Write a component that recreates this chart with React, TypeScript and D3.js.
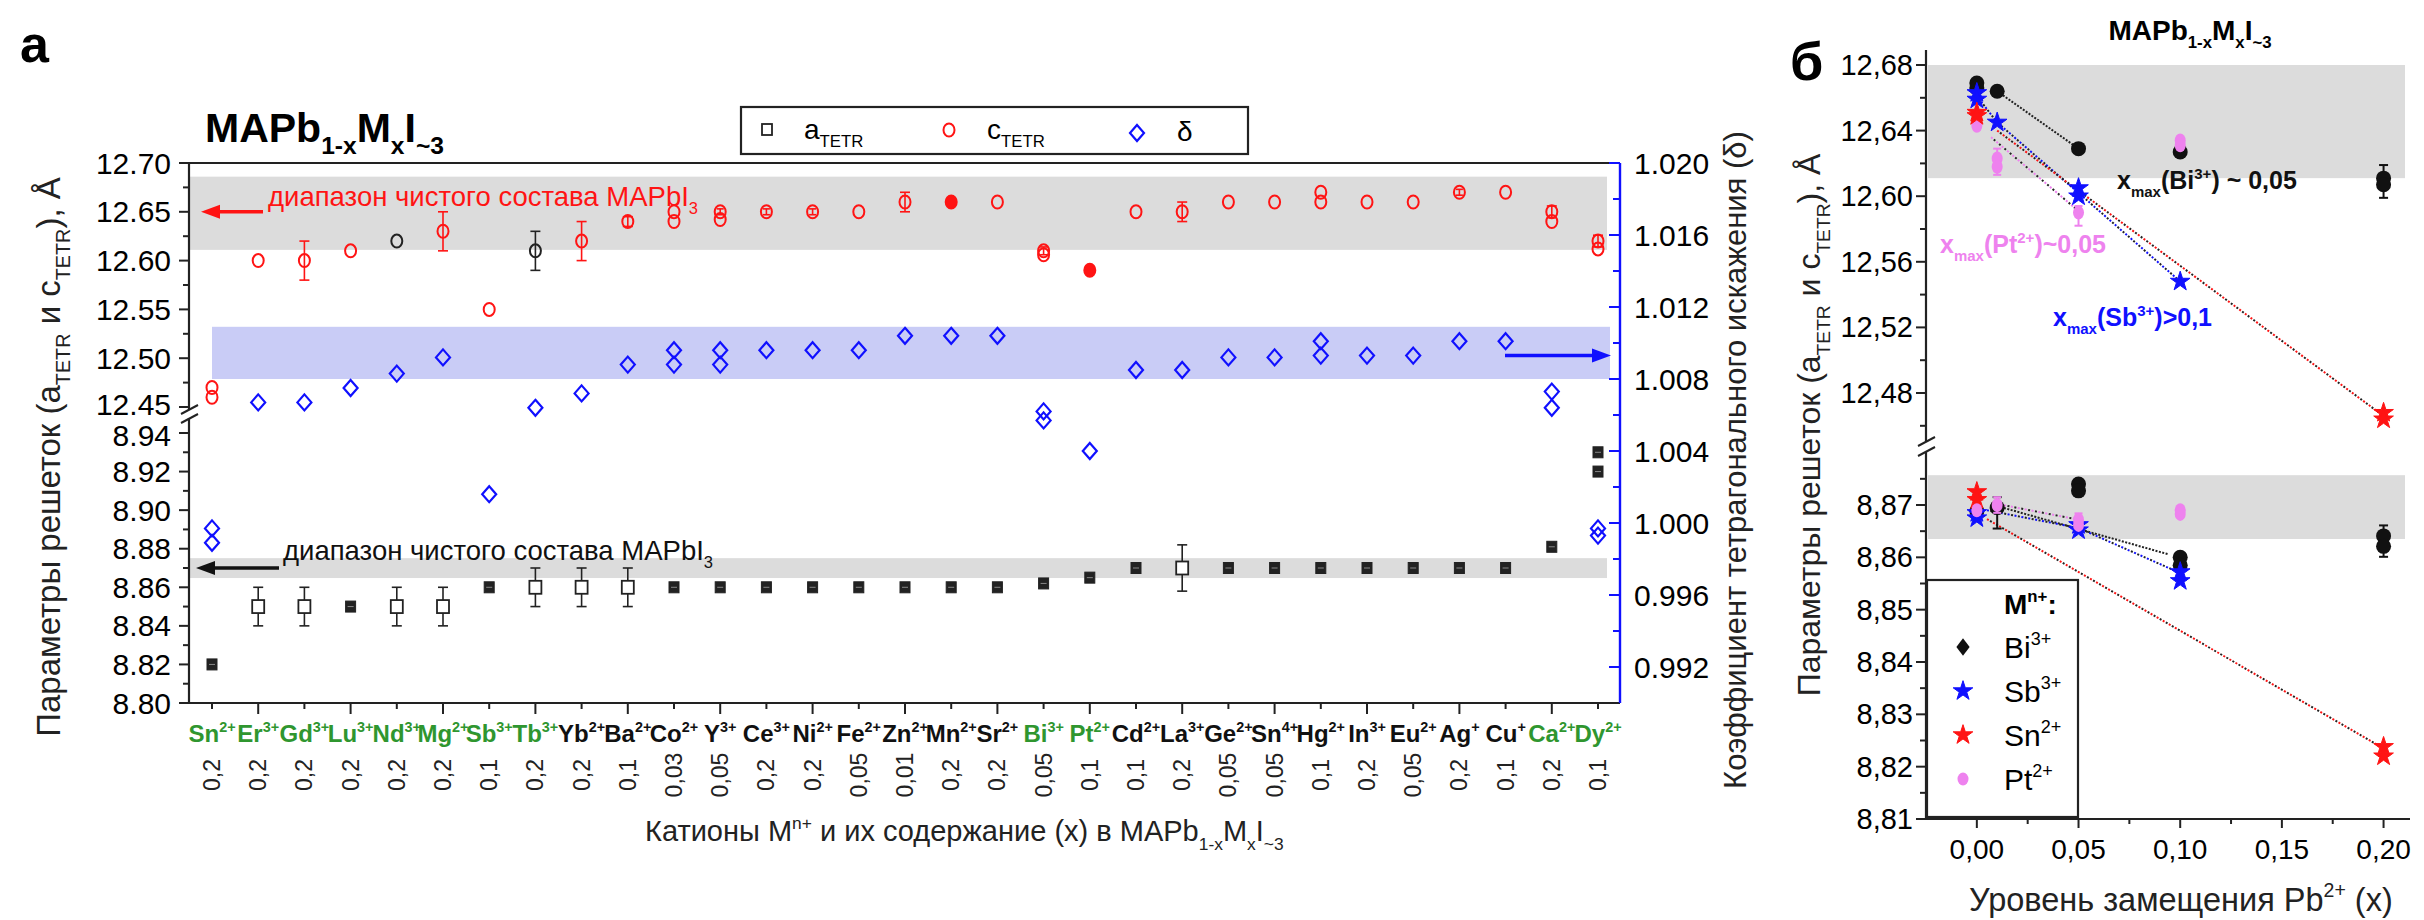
import React from 'react';
import * as d3 from 'd3';

const FONT = "'Liberation Sans', Arial, Helvetica, sans-serif";

// ---------- panel a : cations, charges and content x ----------
const cations = ['Sn', 'Er', 'Gd', 'Lu', 'Nd', 'Mg', 'Sb', 'Tb', 'Yb', 'Ba', 'Co', 'Y', 'Ce', 'Ni', 'Fe', 'Zn', 'Mn', 'Sr', 'Bi', 'Pt', 'Cd', 'La', 'Ge', 'Sn', 'Hg', 'In', 'Eu', 'Ag', 'Cu', 'Ca', 'Dy'];
const charges = ['2+', '3+', '3+', '3+', '3+', '2+', '3+', '3+', '2+', '2+', '2+', '3+', '3+', '2+', '2+', '2+', '2+', '2+', '3+', '2+', '2+', '3+', '2+', '4+', '2+', '3+', '2+', '+', '+', '2+', '2+'];
const contents = ['0,2', '0,2', '0,2', '0,2', '0,2', '0,2', '0,1', '0,2', '0,2', '0,1', '0,03', '0,05', '0,2', '0,2', '0,05', '0,01', '0,2', '0,2', '0,05', '0,1', '0,1', '0,2', '0,05', '0,05', '0,1', '0,2', '0,05', '0,2', '0,1', '0,2', '0,1'];
const greenCations = [0, 1, 2, 3, 4, 5, 6, 7, 18, 19, 29, 30];

// a_TETR (A)
const aTetr = [[8.82], [8.85], [8.85], [8.85], [8.85], [8.85], [8.86], [8.86], [8.86], [8.86], [8.86], [8.86], [8.86], [8.86], [8.86], [8.86], [8.86], [8.86], [8.862], [8.865], [8.87], [8.87], [8.87], [8.87], [8.87], [8.87], [8.87], [8.87], [8.87], [8.881], [8.93, 8.92]];
const aErr = [0.002, 0.01, 0.01, 0.002, 0.01, 0.01, 0.002, 0.01, 0.01, 0.01, 0.002, 0.002, 0.002, 0.002, 0.002, 0.002, 0.002, 0.002, 0.002, 0.003, 0.002, 0.012, 0.002, 0.002, 0.002, 0.002, 0.002, 0.002, 0.002, 0.002, 0.002];
// c_TETR (A)
const cTetr = [[12.47, 12.46], [12.60], [12.60], [12.61], [12.62], [12.63], [12.55], [12.61], [12.62], [12.64], [12.65, 12.64], [12.65, 12.642], [12.65], [12.65], [12.65], [12.66], [12.66], [12.66], [12.61, 12.606], [12.59], [12.65], [12.65], [12.66], [12.66], [12.67, 12.66], [12.66], [12.66], [12.67], [12.67], [12.65, 12.64], [12.62, 12.612]];
const cErr = [0, 0, 0.02, 0, 0, 0.02, 0, 0.02, 0.02, 0.005, 0, 0.003, 0.003, 0.003, 0, 0.01, 0.004, 0, 0.004, 0.004, 0, 0.01, 0, 0, 0, 0, 0, 0.003, 0, 0.006, 0.006];
const cBlackMarks = [4, 7];
const cSolidMarks = [16, 19];
// tetragonal distortion delta
const delta = [[0.9997, 0.9989], [1.0067], [1.0067], [1.0075], [1.0083], [1.0092], [1.0016], [1.0064], [1.0072], [1.0088], [1.0096, 1.0088], [1.0096, 1.0088], [1.0096], [1.0096], [1.0096], [1.0104], [1.0104], [1.0104], [1.0062, 1.0057], [1.004], [1.0085], [1.0085], [1.0092], [1.0092], [1.0101, 1.0093], [1.0093], [1.0093], [1.0101], [1.0101], [1.0073, 1.0064], [0.9997, 0.9993]];

const cPureRange = [12.611, 12.686];
const aPureRange = [8.8648, 8.8751];
const deltaRange = [1.008, 1.0109];

const cTicks = [12.45, 12.5, 12.55, 12.6, 12.65, 12.7];
const aTicks = [8.8, 8.82, 8.84, 8.86, 8.88, 8.9, 8.92, 8.94];
const dTicks = [0.992, 0.996, 1.0, 1.004, 1.008, 1.012, 1.016, 1.02];

// ---------- panel б : substitution level ----------
type Pt = { x: number; v: number; e?: number };
const biC: Pt[] = [{ x: 0, v: 12.669 }, { x: 0, v: 12.666 }, { x: 0.01, v: 12.664 }, { x: 0.05, v: 12.629 }, { x: 0.1, v: 12.627 }, { x: 0.2, v: 12.611, e: 0.008 }, { x: 0.2, v: 12.607 }];
const sbC: Pt[] = [{ x: 0, v: 12.663 }, { x: 0, v: 12.659 }, { x: 0.01, v: 12.645 }, { x: 0.05, v: 12.605 }, { x: 0.05, v: 12.6 }, { x: 0.1, v: 12.548 }];
const snC: Pt[] = [{ x: 0, v: 12.651 }, { x: 0, v: 12.649 }, { x: 0.2, v: 12.468 }, { x: 0.2, v: 12.464 }];
const ptC: Pt[] = [{ x: 0, v: 12.643 }, { x: 0.01, v: 12.623, e: 0.006 }, { x: 0.01, v: 12.618 }, { x: 0.05, v: 12.59, e: 0.004 }, { x: 0.1, v: 12.634 }, { x: 0.1, v: 12.631 }];
const biA: Pt[] = [{ x: 0, v: 8.8688 }, { x: 0.01, v: 8.8695, e: 0.002 }, { x: 0.05, v: 8.874 }, { x: 0.05, v: 8.8727 }, { x: 0.1, v: 8.86 }, { x: 0.1, v: 8.8585 }, { x: 0.2, v: 8.8641, e: 0.002 }, { x: 0.2, v: 8.8621 }];
const sbA: Pt[] = [{ x: 0, v: 8.8685 }, { x: 0, v: 8.8675 }, { x: 0.05, v: 8.8662 }, { x: 0.05, v: 8.8652 }, { x: 0.1, v: 8.8572 }, { x: 0.1, v: 8.8555 }];
const snA: Pt[] = [{ x: 0, v: 8.8725 }, { x: 0, v: 8.871 }, { x: 0.2, v: 8.8238 }, { x: 0.2, v: 8.822 }];
const ptA: Pt[] = [{ x: 0, v: 8.869 }, { x: 0.01, v: 8.87, e: 0.0015 }, { x: 0.05, v: 8.8672, e: 0.0012 }, { x: 0.05, v: 8.8662 }, { x: 0.1, v: 8.869 }, { x: 0.1, v: 8.8683 }];

// dotted guide lines as drawn in the figure
const biTrendC: [number, number][] = [[0.01, 12.664], [0.05, 12.629]];
const sbTrendC: [number, number][] = [[0, 12.661], [0.01, 12.645], [0.05, 12.602], [0.1, 12.548]];
const snTrendC: [number, number][] = [[0.01, 12.64], [0.2, 12.466]];
const ptTrendC: [number, number][] = [[0.007, 12.636], [0.05, 12.591]];
const biTrendA: [number, number][] = [[0.01, 8.8698], [0.094, 8.8606]];
const sbTrendA: [number, number][] = [[0.005, 8.869], [0.05, 8.8656], [0.1, 8.857]];
const snTrendA: [number, number][] = [[0.005, 8.8673], [0.2, 8.8235]];
const ptTrendA: [number, number][] = [[0.01, 8.8702], [0.05, 8.8672]];

const cRange = [12.611, 12.68];
const aRange = [8.8635, 8.8757];

const xTicksR = [0, 0.05, 0.1, 0.15, 0.2];
const cTicksR = [12.48, 12.52, 12.56, 12.6, 12.64, 12.68];
const aTicksR = [8.81, 8.82, 8.83, 8.84, 8.85, 8.86, 8.87];

type Seg = [string, ('sup' | 'sub')?];
function rich(segs: Seg[], size: number) {
  let shift = 0;
  return segs.map(([t, k], i) => {
    const target = k === 'sup' ? -0.42 * size : k === 'sub' ? 0.3 * size : 0;
    const dy = target - shift;
    shift = target;
    return (
      <tspan key={i} dy={dy || undefined} fontSize={k ? size * 0.6 : size}>
        {t}
      </tspan>
    );
  });
}

const mids = (arr: number[]) => arr.slice(1).map((v, i) => (v + arr[i]) / 2);
const diamond = (x: number, y: number, w: number, h: number) => `M${x},${y - h}L${x + w},${y}L${x},${y + h}L${x - w},${y}Z`;
const starPath = d3.symbol().type(d3.symbolStar).size(120)() as string;

function ErrBar({ x, y0, y1, color, cap = 10, w = 1.6 }: { x: number; y0: number; y1: number; color: string; cap?: number; w?: number }) {
  return (
    <g stroke={color} strokeWidth={w}>
      <line x1={x} x2={x} y1={y0} y2={y1} />
      <line x1={x - cap / 2} x2={x + cap / 2} y1={y0} y2={y0} />
      <line x1={x - cap / 2} x2={x + cap / 2} y1={y1} y2={y1} />
    </g>
  );
}

function DottedPair({ d, color }: { d: string; color: string }) {
  return (
    <g fill="none" strokeWidth={2}>
      <path d={d} stroke={color} strokeDasharray="2 5" />
      <path d={d} stroke="#222" strokeDasharray="2 5" strokeDashoffset={3.5} />
    </g>
  );
}

export default function App() {
  // panel a frame
  const L = 189, R = 1620, T = 163, B = 703;
  const xCat = d3.scalePoint<number>().domain(cations.map((_, i) => i)).range([212, 1598]);
  const yC = d3.scaleLinear().domain([12.45, 12.7]).range([407, 163]);
  const yA = d3.scaleLinear().domain([8.8, 8.94]).range([703, 433]);
  const yD = d3.scaleLinear().domain([0.99, 1.02]).range([703, 163]);

  // panel б frame
  const RL = 1926, RR = 2410, RB = 819;
  const xR = d3.scaleLinear().domain([-0.025, 0.213]).range([RL, RR]);
  const yRC = d3.scaleLinear().domain([12.48, 12.68]).range([393, 65]);
  const yRA = d3.scaleLinear().domain([8.81, 8.87]).range([819, 505]);
  const lineRC = d3.line<[number, number]>().x((d) => xR(d[0])).y((d) => yRC(d[1]));
  const lineRA = d3.line<[number, number]>().x((d) => xR(d[0])).y((d) => yRA(d[1]));

  const red = '#ff1414';
  const blue = '#1010ff';
  const green = '#2f962f';
  const violet = '#ee82ee';

  const starAt = (x: number, y: number, fill: string, k: string | number) => (
    <path key={k} d={starPath} transform={`translate(${x},${y})`} fill={fill} stroke={fill} strokeWidth={1} />
  );

  return (
    <>
      <style>{'body{margin:0;background:#fff}'}</style>
      <svg width={2424} height={920} viewBox="0 0 2424 920" style={{ display: 'block', background: '#fff' }} fontFamily={FONT}>
        {/* ================= panel a ================= */}
        <text x={20} y={62} fontSize={52} fontWeight="bold">a</text>
        <text x={205} y={142} fontWeight="bold">{rich([['MAPb'], ['1-x', 'sub'], ['M'], ['x', 'sub'], ['I'], ['~3', 'sub']], 41)}</text>

        {/* bands */}
        <rect x={L} width={1607 - L} y={yC(cPureRange[1])} height={yC(cPureRange[0]) - yC(cPureRange[1])} fill="#dcdcdc" />
        <rect x={212} width={1610 - 212} y={yD(deltaRange[1])} height={yD(deltaRange[0]) - yD(deltaRange[1])} fill="#c9ccf6" />
        <rect x={L} width={1607 - L} y={yA(aPureRange[1])} height={yA(aPureRange[0]) - yA(aPureRange[1])} fill="#dcdcdc" />

        {/* frame */}
        <line x1={L} x2={R} y1={T} y2={T} stroke="#222" strokeWidth={2.2} />
        <line x1={L} x2={R} y1={B} y2={B} stroke="#222" strokeWidth={2.2} />
        <line x1={L} x2={L} y1={T} y2={410} stroke="#222" strokeWidth={2.2} />
        <line x1={L} x2={L} y1={418} y2={B} stroke="#222" strokeWidth={2.2} />
        <line x1={181} x2={198} y1={414} y2={405} stroke="#222" strokeWidth={2} />
        <line x1={181} x2={198} y1={423} y2={414} stroke="#222" strokeWidth={2} />
        <line x1={R} x2={R} y1={T} y2={B} stroke={blue} strokeWidth={2.4} />

        {/* left ticks */}
        {cTicks.map((t, i) => (
          <g key={'ct' + t}>
            <line x1={L - 10} x2={L} y1={yC(t)} y2={yC(t)} stroke="#222" strokeWidth={2} />
            <text x={171} y={yC(t) + (i === 0 ? 8 : 10.5)} fontSize={30} textAnchor="end">{t.toFixed(2)}</text>
          </g>
        ))}
        {mids(cTicks).map((t) => (
          <line key={'cm' + t} x1={L - 6} x2={L} y1={yC(t)} y2={yC(t)} stroke="#222" strokeWidth={2} />
        ))}
        {aTicks.map((t, i) => (
          <g key={'at' + t}>
            <line x1={L - 10} x2={L} y1={yA(t)} y2={yA(t)} stroke="#222" strokeWidth={2} />
            <text x={171} y={yA(t) + (i === aTicks.length - 1 ? 12.5 : 10.5)} fontSize={30} textAnchor="end">{t.toFixed(2)}</text>
          </g>
        ))}
        {mids(aTicks).map((t) => (
          <line key={'am' + t} x1={L - 6} x2={L} y1={yA(t)} y2={yA(t)} stroke="#222" strokeWidth={2} />
        ))}
        {/* right delta ticks */}
        {dTicks.map((t) => (
          <g key={'dt' + t}>
            <line x1={R - 11} x2={R} y1={yD(t)} y2={yD(t)} stroke={blue} strokeWidth={2} />
            <text x={1634} y={yD(t) + 10.5} fontSize={30} textAnchor="start">{t.toFixed(3)}</text>
          </g>
        ))}
        {mids(dTicks).map((t) => (
          <line key={'dm' + t} x1={R - 7} x2={R} y1={yD(t)} y2={yD(t)} stroke={blue} strokeWidth={2} />
        ))}

        {/* category axis */}
        {cations.map((c, i) => {
          const x = xCat(i) as number;
          const col = greenCations.includes(i) ? green : '#111';
          return (
            <g key={'cat' + i}>
              <line x1={x} x2={x} y1={B} y2={B + (i % 2 ? 11 : 6)} stroke="#222" strokeWidth={2} />
              <text x={x} y={742} textAnchor="middle" fontWeight="bold" fill={col}>{rich([[c], [charges[i], 'sup']], 24)}</text>
              <text transform={`translate(${x + 8},775) rotate(-90)`} textAnchor="middle" fontSize={23} fill="#222">{contents[i]}</text>
            </g>
          );
        })}

        {/* a_TETR */}
        {aTetr.map((vals, i) => {
          const x = xCat(i) as number;
          const open = aErr[i] >= 0.008;
          return (
            <g key={'a' + i}>
              {vals.map((v, j) => (
                <g key={j}>
                  {open && <ErrBar x={x} y0={yA(v + aErr[i])} y1={yA(v - aErr[i])} color="#222" />}
                  {open ? (
                    <rect x={x - 6} y={yA(v) - 6.5} width={12} height={13} fill="#fff" stroke="#222" strokeWidth={1.8} />
                  ) : (
                    <g>
                      <rect x={x - 5} y={yA(v) - 5.5} width={10} height={11} fill="#222" stroke="#222" strokeWidth={1} />
                      <line x1={x - 3} x2={x + 3} y1={yA(v)} y2={yA(v)} stroke="#888" strokeWidth={1} />
                    </g>
                  )}
                </g>
              ))}
            </g>
          );
        })}

        {/* c_TETR */}
        {cTetr.map((vals, i) => {
          const x = xCat(i) as number;
          const col = cBlackMarks.includes(i) ? '#222' : red;
          const solid = cSolidMarks.includes(i);
          return (
            <g key={'c' + i}>
              {vals.map((v, j) => (
                <g key={j}>
                  {cErr[i] > 0 && j === 0 && (
                    <ErrBar x={x} y0={yC(v + cErr[i])} y1={yC(v - cErr[i])} color={col} cap={cErr[i] > 0.004 ? 10 : 7} />
                  )}
                  <ellipse cx={x} cy={yC(v)} rx={5.5} ry={6.5} fill={solid ? col : 'none'} stroke={col} strokeWidth={2} />
                </g>
              ))}
            </g>
          );
        })}

        {/* delta */}
        {delta.map((vals, i) => (
          <g key={'d' + i}>
            {vals.map((v, j) => (
              <path key={j} d={diamond(xCat(i) as number, yD(v), 7, 8)} fill="none" stroke={blue} strokeWidth={2.2} />
            ))}
          </g>
        ))}

        {/* arrows and notes */}
        <line x1={263} x2={212} y1={yC(12.65)} y2={yC(12.65)} stroke={red} strokeWidth={3.5} />
        <path d={`M201,${yC(12.65)}L220,${yC(12.65) - 7}L220,${yC(12.65) + 7}Z`} fill={red} />
        <text x={268} y={206} fill={red}>{rich([['диапазон чистого состава MAPbI'], ['3', 'sub']], 27.5)}</text>

        <line x1={279} x2={207} y1={yA(8.87)} y2={yA(8.87)} stroke="#111" strokeWidth={3.5} />
        <path d={`M196,${yA(8.87)}L215,${yA(8.87) - 7}L215,${yA(8.87) + 7}Z`} fill="#111" />
        <text x={283} y={560} fill="#111">{rich([['диапазон чистого состава MAPbI'], ['3', 'sub']], 27.5)}</text>

        <line x1={1505} x2={1598} y1={yD(1.0093)} y2={yD(1.0093)} stroke={blue} strokeWidth={3.5} />
        <path d={`M1611,${yD(1.0093)}L1592,${yD(1.0093) - 7}L1592,${yD(1.0093) + 7}Z`} fill={blue} />

        {/* legend a */}
        <rect x={741} y={107} width={507} height={47} fill="#fff" stroke="#222" strokeWidth={2.2} />
        <rect x={762} y={124} width={10} height={11} fill="none" stroke="#222" strokeWidth={1.8} />
        <text x={804} y={139}>{rich([['a'], ['TETR', 'sub']], 28)}</text>
        <ellipse cx={949} cy={130} rx={5.5} ry={6.5} fill="none" stroke={red} strokeWidth={2} />
        <text x={987} y={139}>{rich([['c'], ['TETR', 'sub']], 28)}</text>
        <path d={diamond(1137, 133, 7, 8)} fill="none" stroke={blue} strokeWidth={2.2} />
        <text x={1177} y={141} fontSize={28}>δ</text>

        {/* axis titles */}
        <text x={645} y={841} fill="#222">{rich([['Катионы M'], ['n+', 'sup'], [' и их содержание (x) в MAPb'], ['1-x', 'sub'], ['M'], ['x', 'sub'], ['I'], ['~3', 'sub']], 29)}</text>
        <text transform="translate(60,457) rotate(-90)" textAnchor="middle" fill="#222">
          {rich([['Параметры решеток (a'], ['TETR', 'sub'], [' и c'], ['TETR', 'sub'], ['), Å']], 33)}
        </text>
        <text transform="translate(1746,460) rotate(-90)" textAnchor="middle" fontSize={31} fill="#222">
          Коэффициент тетрагонального искажения (δ)
        </text>

        {/* ================= panel б ================= */}
        <text x={1790} y={80} fontSize={54} fontWeight="bold">б</text>
        <text x={2190} y={40} textAnchor="middle" fontWeight="bold">{rich([['MAPb'], ['1-x', 'sub'], ['M'], ['x', 'sub'], ['I'], ['~3', 'sub']], 28)}</text>

        <rect x={RL + 2} width={2405 - RL - 2} y={yRC(cRange[1])} height={yRC(cRange[0]) - yRC(cRange[1])} fill="#dcdcdc" />
        <rect x={RL + 2} width={2405 - RL - 2} y={yRA(aRange[1])} height={yRA(aRange[0]) - yRA(aRange[1])} fill="#dcdcdc" />

        {/* axes */}
        <line x1={RL} x2={RL} y1={50} y2={441} stroke="#222" strokeWidth={2.2} />
        <line x1={RL} x2={RL} y1={452} y2={RB} stroke="#222" strokeWidth={2.2} />
        <line x1={1918} x2={1935} y1={446} y2={437} stroke="#222" strokeWidth={2} />
        <line x1={1918} x2={1935} y1={456} y2={447} stroke="#222" strokeWidth={2} />
        <line x1={RL} x2={RR} y1={RB} y2={RB} stroke="#222" strokeWidth={2.2} />

        {cTicksR.map((t) => (
          <g key={'rct' + t}>
            <line x1={RL - 10} x2={RL} y1={yRC(t)} y2={yRC(t)} stroke="#222" strokeWidth={2} />
            <text x={1913} y={yRC(t) + 10} fontSize={29} textAnchor="end">{t.toFixed(2).replace('.', ',')}</text>
          </g>
        ))}
        {[12.46, ...mids(cTicksR)].map((t) => (
          <line key={'rcm' + t} x1={RL - 6} x2={RL} y1={yRC(t)} y2={yRC(t)} stroke="#222" strokeWidth={2} />
        ))}
        {aTicksR.map((t) => (
          <g key={'rat' + t}>
            <line x1={RL - 10} x2={RL} y1={yRA(t)} y2={yRA(t)} stroke="#222" strokeWidth={2} />
            <text x={1913} y={yRA(t) + 10} fontSize={29} textAnchor="end">{t.toFixed(2).replace('.', ',')}</text>
          </g>
        ))}
        {[...mids(aTicksR), 8.875].map((t) => (
          <line key={'ram' + t} x1={RL - 6} x2={RL} y1={yRA(t)} y2={yRA(t)} stroke="#222" strokeWidth={2} />
        ))}
        {xTicksR.map((t) => (
          <g key={'rxt' + t}>
            <line x1={xR(t)} x2={xR(t)} y1={RB} y2={RB + 9} stroke="#222" strokeWidth={2} />
            <text x={xR(t)} y={859} fontSize={28} textAnchor="middle">{t.toFixed(2).replace('.', ',')}</text>
          </g>
        ))}
        {mids(xTicksR).map((t) => (
          <line key={'rxm' + t} x1={xR(t)} x2={xR(t)} y1={RB} y2={RB + 5} stroke="#222" strokeWidth={2} />
        ))}

        {/* dotted guides */}
        <DottedPair d={lineRC(biTrendC) as string} color="#222" />
        <DottedPair d={lineRC(sbTrendC) as string} color={blue} />
        <DottedPair d={lineRC(snTrendC) as string} color={red} />
        <DottedPair d={lineRC(ptTrendC) as string} color={violet} />
        <DottedPair d={lineRA(biTrendA) as string} color="#222" />
        <DottedPair d={lineRA(sbTrendA) as string} color={blue} />
        <DottedPair d={lineRA(snTrendA) as string} color={red} />
        <DottedPair d={lineRA(ptTrendA) as string} color={violet} />

        {/* markers, c */}
        {biC.map((p, i) => (
          <g key={'bc' + i}>
            {p.e && <ErrBar x={xR(p.x)} y0={yRC(p.v + p.e)} y1={yRC(p.v - p.e - 0.004)} color="#111" cap={9} w={2} />}
            <circle cx={xR(p.x)} cy={yRC(p.v)} r={7.5} fill="#111" />
          </g>
        ))}
        {ptC.map((p, i) => (
          <g key={'pc' + i}>
            {p.e && <ErrBar x={xR(p.x)} y0={yRC(p.v + p.e)} y1={yRC(p.v - p.e - 0.004)} color={violet} cap={8} w={2} />}
            <ellipse cx={xR(p.x)} cy={yRC(p.v)} rx={5.5} ry={7} fill={violet} />
          </g>
        ))}
        {sbC.map((p, i) => starAt(xR(p.x), yRC(p.v), blue, 'sc' + i))}
        {snC.map((p, i) => starAt(xR(p.x), yRC(p.v), red, 'nc' + i))}

        {/* markers, a */}
        {biA.map((p, i) => (
          <g key={'ba' + i}>
            {p.e && <ErrBar x={xR(p.x)} y0={yRA(p.v + p.e)} y1={yRA(p.v - p.e - 0.002)} color="#111" cap={9} w={2} />}
            <circle cx={xR(p.x)} cy={yRA(p.v)} r={7.5} fill="#111" />
          </g>
        ))}
        {sbA.map((p, i) => starAt(xR(p.x), yRA(p.v), blue, 'sa' + i))}
        {snA.map((p, i) => starAt(xR(p.x), yRA(p.v), red, 'na' + i))}
        {ptA.map((p, i) => (
          <g key={'pa' + i}>
            {p.e && <ErrBar x={xR(p.x)} y0={yRA(p.v + p.e)} y1={yRA(p.v - p.e)} color={violet} cap={8} w={2} />}
            <ellipse cx={xR(p.x)} cy={yRA(p.v)} rx={5.5} ry={7} fill={violet} />
          </g>
        ))}

        {/* notes */}
        <text x={2117} y={189} fontWeight="bold" fill="#111">{rich([['x'], ['max', 'sub'], ['(Bi'], ['3+', 'sup'], [') ~ 0,05']], 25)}</text>
        <text x={1940} y={253} fontWeight="bold" fill={violet}>{rich([['x'], ['max', 'sub'], ['(Pt'], ['2+', 'sup'], [')~0,05']], 25)}</text>
        <text x={2053} y={326} fontWeight="bold" fill={blue}>{rich([['x'], ['max', 'sub'], ['(Sb'], ['3+', 'sup'], [')>0,1']], 25)}</text>

        {/* legend б */}
        <rect x={RL + 1} y={580} width={151} height={237} fill="#fff" stroke="#222" strokeWidth={2.2} />
        <text x={2004} y={614} fontWeight="bold">{rich([['M'], ['n+', 'sup'], [':']], 28)}</text>
        {[
          ['Bi', '3+', '#111'],
          ['Sb', '3+', blue],
          ['Sn', '2+', red],
          ['Pt', '2+', violet],
        ].map(([n, ch, col], i) => {
          const y = 647 + i * 44;
          return (
            <g key={'lg' + n}>
              {i === 0 && <path d={d3.symbol().type(d3.symbolDiamond).size(90)() as string} transform={`translate(1963,${y}) scale(1.3,1)`} fill={col} />}
              {(i === 1 || i === 2) && starAt(1963, y, col, 'ls' + i)}
              {i === 3 && <ellipse cx={1963} cy={y} rx={5.5} ry={6.5} fill={col} />}
              <text x={2004} y={y + 11}>{rich([[n], [ch, 'sup']], 30)}</text>
            </g>
          );
        })}

        {/* axis titles б */}
        <text x={1969} y={911} fill="#222">{rich([['Уровень замещения Pb'], ['2+', 'sup'], [' (x)']], 32.5)}</text>
        <text transform="translate(1820,425) rotate(-90)" textAnchor="middle" fill="#222">
          {rich([['Параметры решеток (a'], ['TETR', 'sub'], [' и c'], ['TETR', 'sub'], ['), Å']], 32)}
        </text>
      </svg>
    </>
  );
}
